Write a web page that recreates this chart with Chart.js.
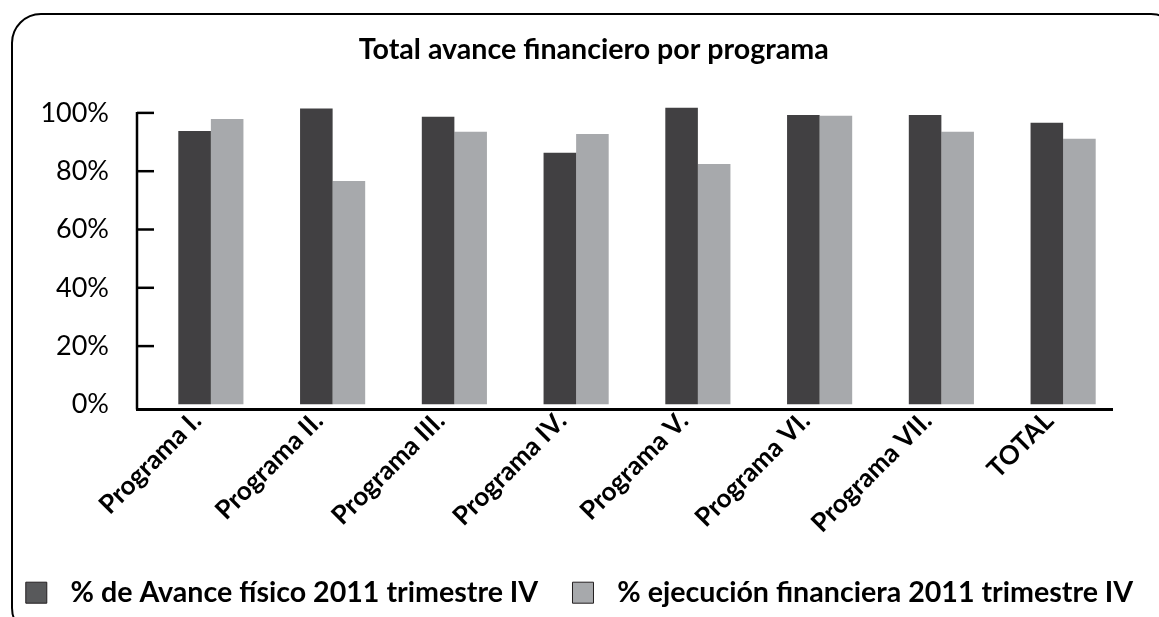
<!DOCTYPE html>
<html>
<head>
<meta charset="utf-8">
<script src="https://cdn.jsdelivr.net/npm/chart.js@4.4.1/dist/chart.umd.min.js"></script>
<style>
  html, body { margin: 0; padding: 0; background: #fff; overflow: hidden; }
  #frame {
    position: absolute; left: 11px; top: 13px; width: 1170px; height: 625px;
    border: 2px solid #000; border-radius: 30px; box-sizing: border-box;
  }
  #wrap { position: absolute; left: 0; top: 0; width: 1159px; height: 617px; }
</style>
</head>
<body>
<div id="frame"></div>
<div id="wrap"><canvas id="avanceChart"></canvas></div>
<script>
// datos
const programas = ['Programa I.', 'Programa II.', 'Programa III.', 'Programa IV.', 'Programa V.', 'Programa VI.', 'Programa VII.', 'TOTAL'];
const avanceFisico = [93.8, 101.5, 98.7, 86.3, 101.8, 99.3, 99.3, 96.6];
const ejecucionFinanciera = [97.9, 76.6, 93.5, 92.8, 82.5, 99.0, 93.5, 91.1];
const ticksY = [0, 20, 40, 60, 80, 100];

const OSCURO = '#414042';
const CLARO = '#a7a9ac';

// ejes dibujados a mano (línea vertical con marcas hacia dentro, línea base gruesa)
const ejesPlugin = {
    id: 'ejes',
    afterDatasetsDraw(chart) {
        const { ctx, chartArea, scales } = chart;
        const x0 = chartArea.left - 13;
        const yTop = scales.y.getPixelForValue(100);
        const yBase = chartArea.bottom + 5;
        ctx.save();
        ctx.strokeStyle = '#000';
        ctx.lineWidth = 2.5;
        ctx.beginPath();
        ctx.moveTo(x0, yTop - 1);
        ctx.lineTo(x0, yBase);
        ctx.stroke();
        ticksY.forEach(v => {
            if (v === 0) return;
            const y = scales.y.getPixelForValue(v);
            ctx.beginPath();
            ctx.moveTo(x0, y);
            ctx.lineTo(x0 + 17, y);
            ctx.stroke();
        });
        ctx.lineWidth = 3;
        ctx.beginPath();
        ctx.moveTo(x0 - 1, yBase);
        ctx.lineTo(chartArea.right - 11, yBase);
        ctx.stroke();
        ctx.restore();
    }
};

const ctx = document.getElementById('avanceChart').getContext('2d');
new Chart(ctx, {
    type: 'bar',
    data: {
        labels: programas,
        datasets: [
            {
                label: '% de Avance físico 2011 trimestre IV',
                data: avanceFisico,
                backgroundColor: OSCURO,
                borderWidth: 0
            },
            {
                label: '% ejecución financiera 2011 trimestre IV',
                data: ejecucionFinanciera,
                backgroundColor: CLARO,
                borderWidth: 0
            }
        ]
    },
    options: {
        responsive: true,
        maintainAspectRatio: false,
        animation: false,
        datasets: { bar: { barPercentage: 1.0, categoryPercentage: 0.535 } },
        layout: { padding: { left: 0, right: 0, top: 0, bottom: 0 } },
        plugins: {
            title: {
                display: true,
                text: '\u2002\u2002Total avance financiero por programa',
                color: '#000',
                font: { family: 'Lato', size: 28.6, weight: 'bold' },
                padding: { top: 33, bottom: 31 }
            },
            legend: {
                position: 'bottom',
                labels: {
                    color: '#000',
                    font: { family: 'Lato', size: 28.6, weight: 'bold' },
                    boxWidth: 21,
                    boxHeight: 21,
                    padding: 20,
                    generateLabels(chart) {
                        const items = Chart.defaults.plugins.legend.labels.generateLabels(chart);
                        const rellenos = ['#58595b', CLARO];
                        return items.map((it, i) => ({
                            ...it,
                            text: '\u2004' + it.text + (i === 0 ? '\u2002' : ''),
                            fillStyle: rellenos[i],
                            strokeStyle: '#231f20',
                            lineWidth: 1
                        }));
                    }
                }
            },
            tooltip: { enabled: false }
        },
        scales: {
            x: {
                grid: { display: false, drawTicks: false },
                border: { display: false },
                ticks: {
                    color: '#000',
                    font: { family: 'Lato', size: 26, weight: 'bold' },
                    maxRotation: 45,
                    minRotation: 45,
                    padding: 1,
                    labelOffset: -14
                },
                afterFit(scale) { scale.height = 154; }
            },
            y: {
                min: 0,
                max: 105,
                grid: { display: false, drawTicks: false },
                border: { display: false },
                ticks: {
                    stepSize: 20,
                    includeBounds: false,
                    color: '#000',
                    font: { family: 'Lato', size: 27 },
                    padding: 41,
                    callback: v => v + '%'
                },
                afterFit(scale) { scale.width = 150; }
            },
            // margen derecho sin recortar el ancho de la leyenda
            margenDerecho: {
                position: 'right',
                grid: { display: false, drawTicks: false },
                border: { display: false },
                ticks: { display: false },
                afterFit(scale) { scale.width = 35; }
            }
        }
    },
    plugins: [ejesPlugin]
});
</script>
</body>
</html>
